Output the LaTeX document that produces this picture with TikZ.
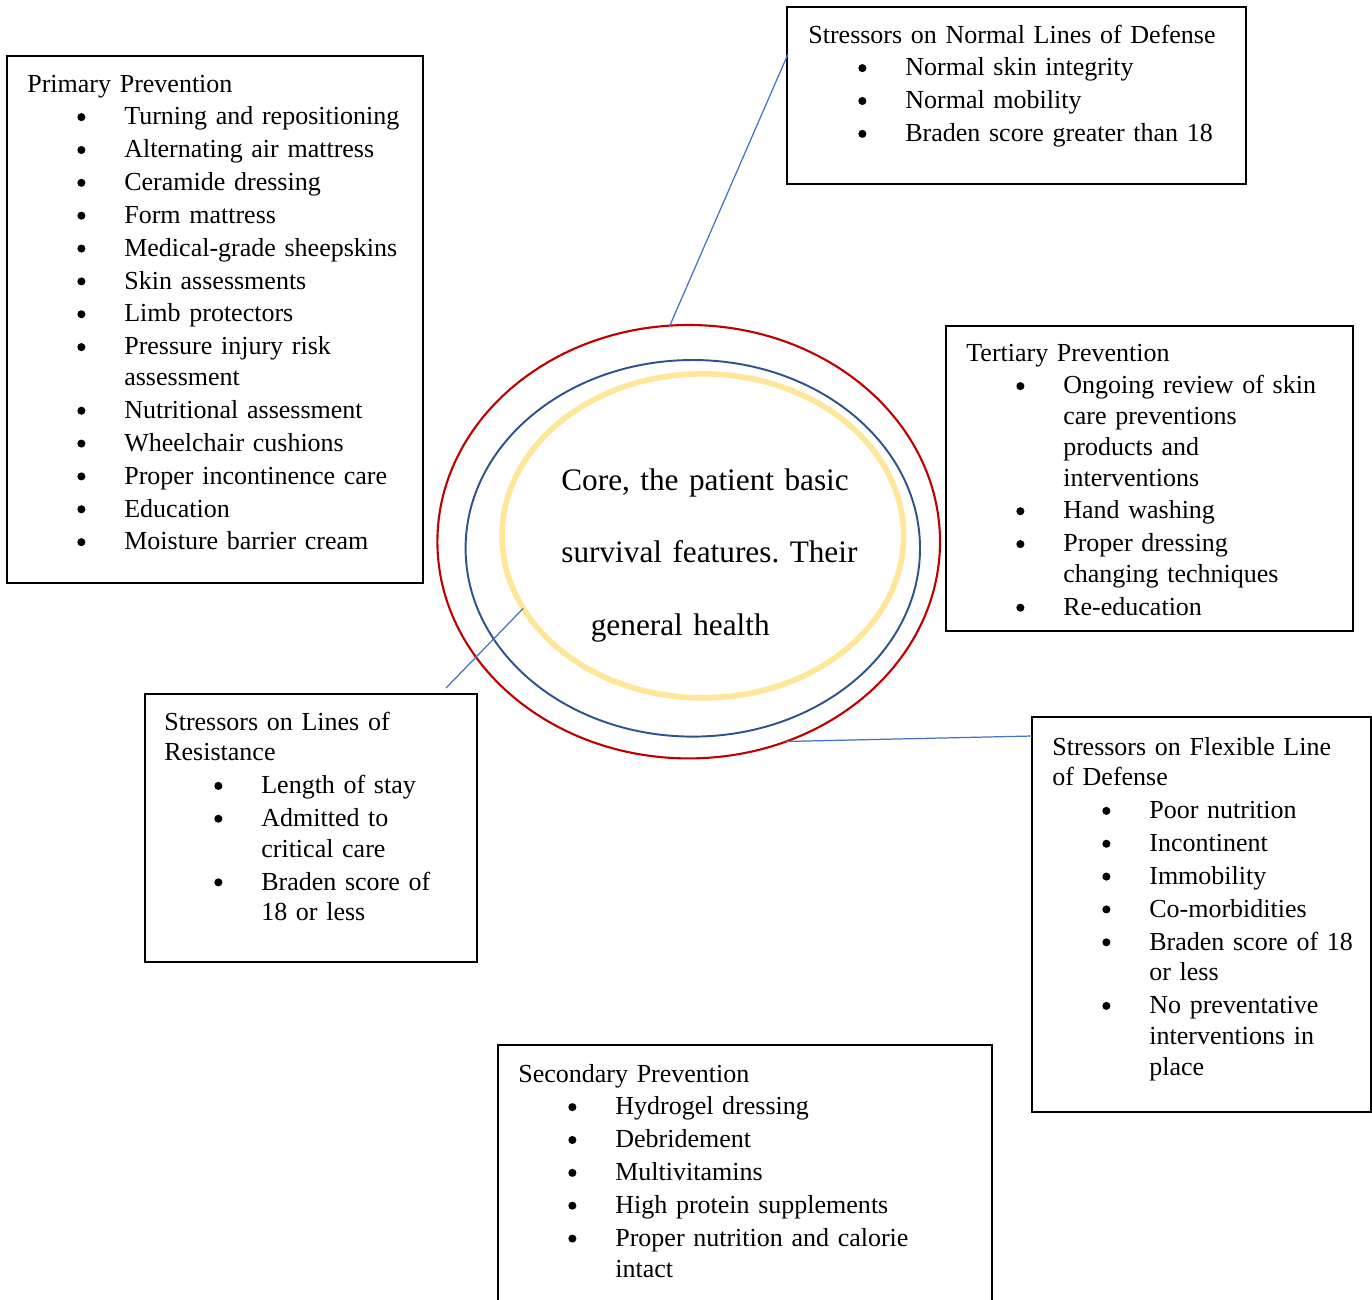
\documentclass[tikz,border=0pt]{standalone}
\usepackage{fontspec}
\setmainfont{Liberation Serif}
\usetikzlibrary{shapes.geometric}

\definecolor{ringred}{HTML}{C00000}
\definecolor{ringblue}{HTML}{2F528F}
\definecolor{ringgold}{HTML}{FFE699}
\definecolor{linkblue}{HTML}{4472C4}

\frenchspacing
\newcommand{\px}{0.02cm}
\newcommand{\bulletdot}{\tikz[baseline=0pt]\fill (0pt,4.4pt) circle[radius=2.3pt];}
\newcommand{\itm}[1]{\par\parskip=1.2pt\hangindent=1.94cm\hangafter=1\noindent\makebox[1.94cm][l]{\hspace*{1.0cm}\bulletdot}#1\par}

\tikzset{
  ring/.style={ellipse, draw, inner sep=0pt, outer sep=0pt},
  panel/.style={draw=black, line width=0.8pt, inner sep=0pt, outer sep=0pt, anchor=north west},
  panel text/.style={anchor=base west, inner sep=0pt, align=left, font=\fontsize{14.8}{17.5}\selectfont},
  link/.style={draw=linkblue, line width=0.7pt},
}

\begin{document}
\begin{tikzpicture}[x=0.02cm, y=-0.02cm]

  \useasboundingbox (0,0) rectangle (1372,1299);

  \node[ring, draw=ringred, line width=1.2pt, minimum width=502.6*\px, minimum height=433.4*\px] (outer) at (688.7,541.7) {};
  \node[ring, draw=ringblue, line width=1.1pt, minimum width=454.4*\px, minimum height=376.6*\px] (middle) at (692.8,548.3) {};
  \node[ring, draw=ringgold, line width=3.2pt, minimum width=401.6*\px, minimum height=324*\px] (inner) at (702.8,535.8) {};

  \node[anchor=base west, inner sep=0pt, text width=8cm, align=left, font=\fontsize{17.8}{41.3}\selectfont] (coretext) at (561,490)
    {Core, the patient basic\newline survival features. Their\newline \hspace*{0.59cm}general health};

  \node[panel, minimum width=416*\px, minimum height=527*\px] (primary) at (7,56) {};
  \node[panel, minimum width=459*\px, minimum height=177*\px] (normal) at (787,7) {};
  \node[panel, minimum width=407*\px, minimum height=305*\px] (tertiary) at (946,326) {};
  \node[panel, minimum width=332*\px, minimum height=268*\px] (resistance) at (145,694) {};
  \node[panel, minimum width=339*\px, minimum height=395*\px] (flexible) at (1032,717) {};
  \node[panel, minimum width=494*\px, minimum height=260*\px] (secondary) at (498,1045) {};

  \node[panel text, text width=396*\px] (primarytext) at ([shift={(20,36)}]primary.north west)
    {Primary Prevention
     \itm{Turning and repositioning}
     \itm{Alternating air mattress}
     \itm{Ceramide dressing}
     \itm{Form mattress}
     \itm{Medical-grade sheepskins}
     \itm{Skin assessments}
     \itm{Limb protectors}
     \itm{Pressure injury risk\newline assessment}
     \itm{Nutritional assessment}
     \itm{Wheelchair cushions}
     \itm{Proper incontinence care}
     \itm{Education}
     \itm{Moisture barrier cream}};

  \node[panel text, text width=440*\px] (normaltext) at ([shift={(21,36)}]normal.north west)
    {Stressors on Normal Lines of Defense
     \itm{Normal skin integrity}
     \itm{Normal mobility}
     \itm{Braden score greater than 18}};

  \node[panel text, text width=390*\px] (tertiarytext) at ([shift={(20,35)}]tertiary.north west)
    {Tertiary Prevention
     \itm{Ongoing review of skin\newline care preventions\newline products and\newline interventions}
     \itm{Hand washing}
     \itm{Proper dressing\newline changing techniques}
     \itm{Re-education}};

  \node[panel text, text width=320*\px] (resistancetext) at ([shift={(19,36)}]resistance.north west)
    {Stressors on Lines of\newline Resistance
     \itm{Length of stay}
     \itm{Admitted to\newline critical care}
     \itm{Braden score of\newline 18 or less}};

  \node[panel text, text width=330*\px] (flexibletext) at ([shift={(20,38)}]flexible.north west)
    {Stressors on Flexible Line\newline of Defense
     \itm{Poor nutrition}
     \itm{Incontinent}
     \itm{Immobility}
     \itm{Co-morbidities}
     \itm{Braden score of 18\newline or less}
     \itm{No preventative\newline interventions in\newline place}};

  \node[panel text, text width=470*\px] (secondarytext) at ([shift={(20,37)}]secondary.north west)
    {Secondary Prevention
     \itm{Hydrogel dressing}
     \itm{Debridement}
     \itm{Multivitamins}
     \itm{High protein supplements}
     \itm{Proper nutrition and calorie\newline intact}};

  \coordinate (normfoot) at (788,54);
  \coordinate (resfoot) at (446,688);
  \coordinate (flexfoot) at (1032,736);

  \draw[link] (outer.95) -- (normfoot);
  \draw[link] (inner.202) -- (resfoot);
  \draw[link] (outer.296) -- (flexfoot);

\end{tikzpicture}
\end{document}
